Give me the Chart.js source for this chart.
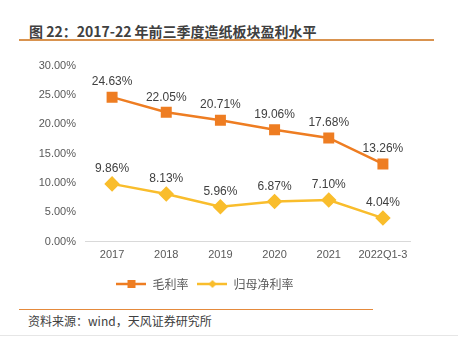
<!DOCTYPE html>
<html>
<head>
<meta charset="utf-8">
<script src="https://cdn.jsdelivr.net/npm/chart.js@4.4.0/dist/chart.umd.min.js"></script>
<style>
  body { margin: 0; background: #fff; width: 458px; height: 337px; position: relative; overflow: hidden;
         font-family: "Noto Sans CJK SC", "Liberation Sans", sans-serif; }
  #title { position: absolute; left: 29px; top: 21px; font-size: 14px; font-weight: bold; color: #404040; }
  #topline { position: absolute; left: 19px; top: 39px; width: 415px; height: 2px; background: #d9934f; }
  #wrap { position: absolute; left: 0; top: 50px; width: 440px; height: 250px; }
  #botline { position: absolute; left: 19px; top: 309px; width: 354px; height: 1px; background: #e58a3c; }
  #source { position: absolute; left: 28px; top: 312px; font-size: 12px; color: #404040; }
  #grayline { position: absolute; left: 0; top: 335px; width: 458px; height: 1px; background: #e6e6e6; }
</style>
</head>
<body>
<div id="title">图 22：2017-22 年前三季度造纸板块盈利水平</div>
<div id="topline"></div>
<div id="wrap"><canvas id="myChart"></canvas></div>
<div id="botline"></div>
<div id="source">资料来源：wind，天风证券研究所</div>
<div id="grayline"></div>
<script>
const labels = ['2017', '2018', '2019', '2020', '2021', '2022Q1-3'];
const grossMargin = [24.63, 22.05, 20.71, 19.06, 17.68, 13.26];
const netMargin = [9.86, 8.13, 5.96, 6.87, 7.10, 4.04];
const orange = '#ee7d22';
const yellow = '#f9bd2c';

// little line+marker icon for the legend
function legendIcon(color, shape) {
    const c = document.createElement('canvas');
    c.width = 30; c.height = 10;
    const g = c.getContext('2d');
    g.strokeStyle = color; g.lineWidth = 2.5;
    g.beginPath(); g.moveTo(0, 5); g.lineTo(30, 5); g.stroke();
    g.fillStyle = color;
    if (shape === 'rect') {
        g.fillRect(11, 1, 8, 8);
    } else {
        g.beginPath(); g.moveTo(15, 1); g.lineTo(19, 5); g.lineTo(15, 9); g.lineTo(11, 5); g.closePath(); g.fill();
    }
    return c;
}

const valueLabels = {
    id: 'valueLabels',
    afterDatasetsDraw(chart) {
        const g = chart.ctx;
        g.save();
        g.font = '12px "Liberation Sans", Arial, sans-serif';
        g.fillStyle = '#404040';
        g.textAlign = 'center';
        g.textBaseline = 'bottom';
        chart.data.datasets.forEach((ds, i) => {
            chart.getDatasetMeta(i).data.forEach((pt, j) => {
                g.fillText(ds.data[j].toFixed(2) + '%', pt.x, pt.y - 9);
            });
        });
        g.restore();
    }
};

const ctx = document.getElementById('myChart').getContext('2d');
const myChart = new Chart(ctx, {
    type: 'line',
    data: {
        labels: labels,
        datasets: [{
            label: '毛利率',
            data: grossMargin,
            borderColor: orange,
            backgroundColor: orange,
            borderWidth: 2.5,
            pointStyle: 'rect',
            pointRadius: 6,
            pointHoverRadius: 6
        }, {
            label: '归母净利率',
            data: netMargin,
            borderColor: yellow,
            backgroundColor: yellow,
            borderWidth: 2.5,
            pointStyle: 'rectRot',
            pointRadius: 6,
            pointHoverRadius: 6
        }]
    },
    options: {
        responsive: true,
        maintainAspectRatio: false,
        animation: false,
        layout: { padding: { top: 10, right: 30, bottom: 0, left: 0 } },
        plugins: {
            tooltip: { enabled: false },
            legend: {
                position: 'bottom',
                labels: {
                    color: '#595959',
                    font: { size: 12, family: '"Noto Sans CJK SC", sans-serif' },
                    usePointStyle: true,
                    pointStyleWidth: 30,
                    padding: 9,
                    generateLabels(chart) {
                        return chart.data.datasets.map((ds, i) => ({
                            text: ds.label,
                            pointStyle: legendIcon(ds.borderColor, i === 0 ? 'rect' : 'diamond'),
                            fillStyle: ds.borderColor,
                            strokeStyle: ds.borderColor,
                            lineWidth: 0,
                            fontColor: '#595959',
                            datasetIndex: i
                        }));
                    }
                }
            }
        },
        scales: {
            x: {
                offset: true,
                grid: { display: false, drawTicks: false },
                border: { color: '#d9d9d9', width: 1 },
                ticks: { color: '#595959', maxRotation: 0, minRotation: 0, autoSkip: false,
                         font: { size: 11, family: '"Liberation Sans", Arial, sans-serif' }, padding: 7 }
            },
            y: {
                min: 0,
                max: 30,
                afterFit(scale) { scale.width = 85; },
                grid: { display: false, drawTicks: false },
                border: { display: false },
                ticks: {
                    stepSize: 5,
                    color: '#595959',
                    padding: 9,
                    font: { size: 11, family: '"Liberation Sans", Arial, sans-serif' },
                    callback: v => v.toFixed(2) + '%'
                }
            }
        }
    },
    plugins: [valueLabels]
});
</script>
</body>
</html>
